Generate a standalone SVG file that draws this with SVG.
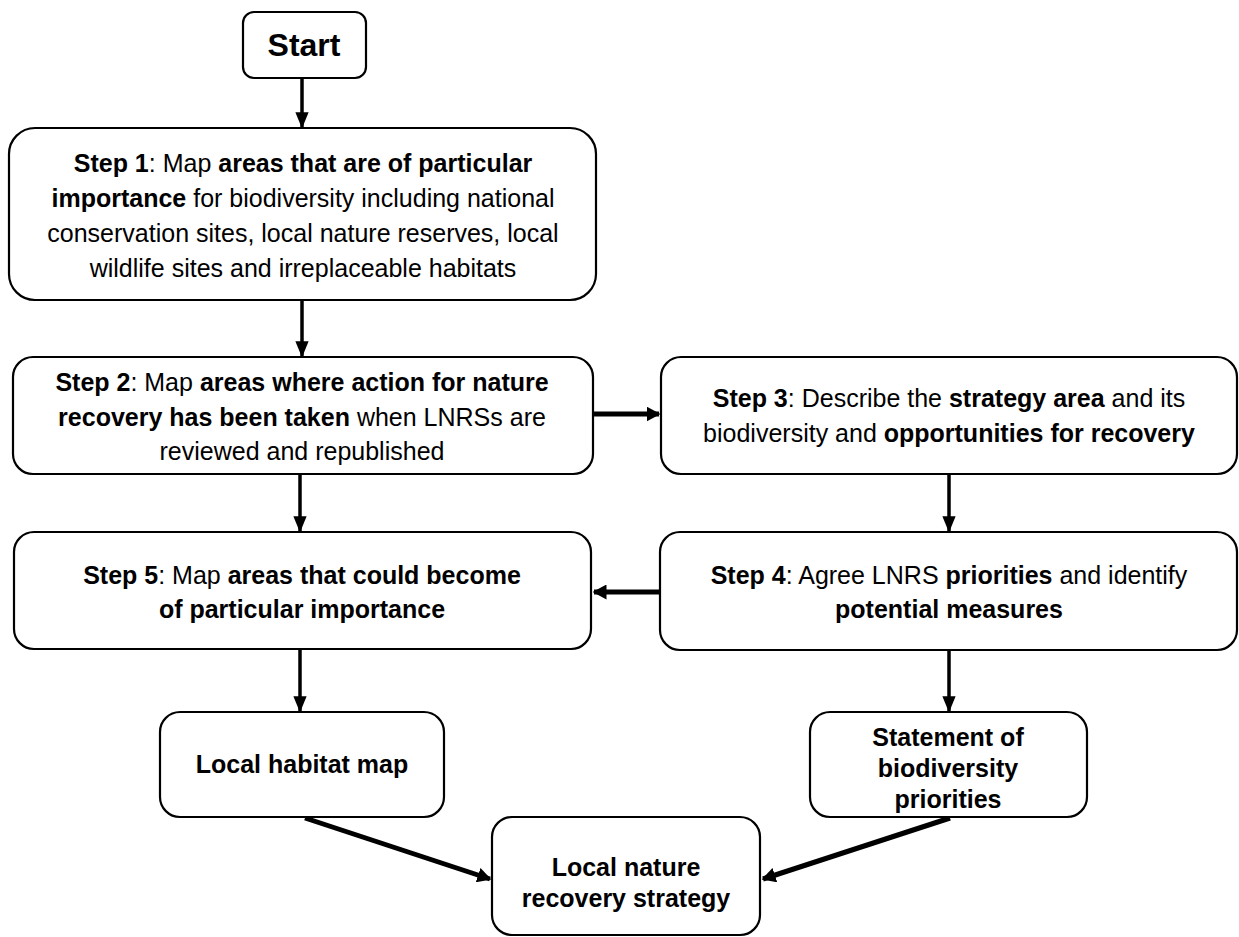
<svg xmlns="http://www.w3.org/2000/svg" width="1239" height="937" viewBox="0 0 1239 937">
<style>
.box{fill:#fff;stroke:#000;stroke-width:2.2}
.t{font-family:"Liberation Sans",Arial,sans-serif;font-size:25px;fill:#000;text-anchor:middle}
.b{font-weight:bold}
.c{stroke:#000;fill:none}
.v{stroke-width:3.5}
.h{stroke-width:5}
</style>
<defs>
<marker id="ah" markerWidth="4.6" markerHeight="3.8" refX="4.2" refY="1.9" orient="auto" markerUnits="strokeWidth">
<path d="M0,0 L4.6,1.9 L0,3.8 Z" fill="#000"/>
</marker>
<marker id="ah2" markerWidth="2.8" markerHeight="3" refX="2.5" refY="1.5" orient="auto" markerUnits="strokeWidth">
<path d="M0,0 L2.8,1.5 L0,3 Z" fill="#000"/>
</marker>
</defs>
<rect width="1239" height="937" fill="#fff"/>
<g id="connectors">
<line class="c v" x1="302" y1="78" x2="302" y2="127"  marker-end="url(#ah)"/>
<line class="c v" x1="302" y1="300" x2="302" y2="356" marker-end="url(#ah)"/>
<line class="c h" x1="593" y1="414" x2="659" y2="414" marker-end="url(#ah2)"/>
<line class="c v" x1="300" y1="474" x2="300" y2="531" marker-end="url(#ah)"/>
<line class="c v" x1="949" y1="474" x2="949" y2="531" marker-end="url(#ah)"/>
<line class="c h" x1="660" y1="592" x2="594" y2="592" marker-end="url(#ah2)"/>
<line class="c v" x1="300" y1="650" x2="300" y2="711" marker-end="url(#ah)"/>
<line class="c v" x1="949" y1="650" x2="949" y2="711" marker-end="url(#ah)"/>
<line class="c h" x1="305" y1="818" x2="490" y2="879" marker-end="url(#ah2)"/>
<line class="c h" x1="950" y1="818" x2="763" y2="879" marker-end="url(#ah2)"/>
</g>
<g id="start">
<rect class="box" x="243" y="12" width="123" height="66" rx="11"/>
<text class="t b" x="304" y="56" style="font-size:32px">Start</text>
</g>
<g id="step1">
<rect class="box" x="9" y="128" width="587" height="172" rx="26"/>
<text class="t" x="303" y="172"><tspan class="b">Step 1</tspan>: Map <tspan class="b">areas that are of particular</tspan></text>
<text class="t" x="303" y="207"><tspan class="b">importance</tspan> for biodiversity including national</text>
<text class="t" x="303" y="242">conservation sites, local nature reserves, local</text>
<text class="t" x="303" y="277">wildlife sites and irreplaceable habitats</text>
</g>
<g id="step2">
<rect class="box" x="13" y="357" width="580" height="117" rx="20"/>
<text class="t" x="302" y="391"><tspan class="b">Step 2</tspan>: Map <tspan class="b">areas where action for nature</tspan></text>
<text class="t" x="302" y="426"><tspan class="b">recovery has been taken</tspan> when LNRSs are</text>
<text class="t" x="302" y="460">reviewed and republished</text>
</g>
<g id="step3">
<rect class="box" x="661" y="357" width="576" height="117" rx="20"/>
<text class="t" x="949" y="407"><tspan class="b">Step 3</tspan>: Describe the <tspan class="b">strategy area</tspan> and its</text>
<text class="t" x="949" y="442">biodiversity and <tspan class="b">opportunities for recovery</tspan></text>
</g>
<g id="step5">
<rect class="box" x="14" y="532" width="577" height="117" rx="20"/>
<text class="t" x="302" y="584"><tspan class="b">Step 5</tspan>: Map <tspan class="b">areas that could become</tspan></text>
<text class="t b" x="302" y="618">of particular importance</text>
</g>
<g id="step4">
<rect class="box" x="660" y="532" width="577" height="118" rx="20"/>
<text class="t" x="949" y="584"><tspan class="b">Step 4</tspan>: Agree LNRS <tspan class="b">priorities</tspan> and identify</text>
<text class="t b" x="949" y="618">potential measures</text>
</g>
<g id="habitat">
<rect class="box" x="160" y="712" width="284" height="105" rx="20"/>
<text class="t b" x="302" y="773">Local habitat map</text>
</g>
<g id="statement">
<rect class="box" x="810" y="712" width="277" height="105" rx="20"/>
<text class="t b" x="948" y="746">Statement of</text>
<text class="t b" x="948" y="777">biodiversity</text>
<text class="t b" x="948" y="808">priorities</text>
</g>
<g id="lnrs">
<rect class="box" x="492" y="817" width="268" height="118" rx="20"/>
<text class="t b" x="626" y="876">Local nature</text>
<text class="t b" x="626" y="907">recovery strategy</text>
</g>
</svg>
